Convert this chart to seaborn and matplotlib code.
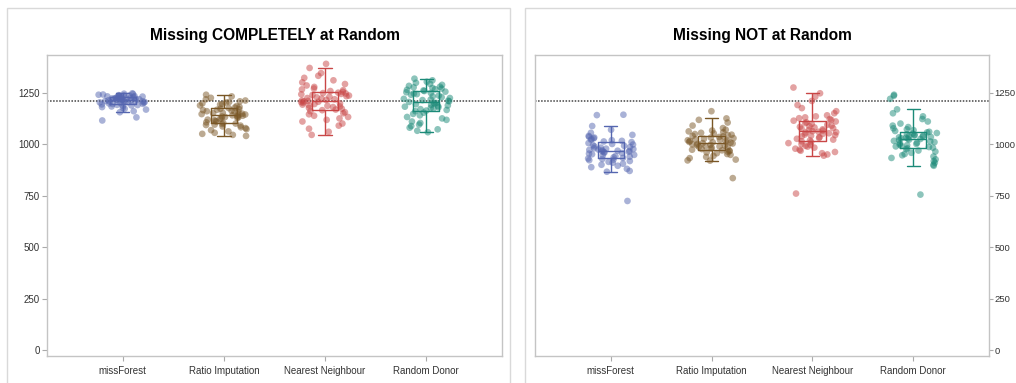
import numpy as np
import pandas as pd
import seaborn as sns
import matplotlib
matplotlib.use("Agg")
import matplotlib.pyplot as plt
from matplotlib.patches import Rectangle
from matplotlib.colors import to_rgba

methods = ["missForest", "Ratio Imputation", "Nearest Neighbour", "Random Donor"]
titles = ["Missing COMPLETELY at Random", "Missing NOT at Random"]
yticks = [0, 250, 500, 750, 1000, 1250]
true_total = 1210

mcar_missforest = [1115, 1130, 1155, 1160, 1168, 1172, 1176, 1180, 1183, 1186, 1188, 1190, 1191, 1193, 1195,
                   1196, 1198, 1200, 1201, 1203, 1204, 1205, 1206, 1207, 1208, 1209, 1210, 1210, 1211, 1212,
                   1213, 1214, 1215, 1216, 1217, 1218, 1219, 1220, 1221, 1222, 1223, 1224, 1225, 1226, 1228,
                   1229, 1230, 1231, 1232, 1233, 1234, 1235, 1236, 1237, 1238, 1240, 1241, 1243, 1245, 1247]
mcar_ratio = [1040, 1045, 1050, 1055, 1062, 1068, 1073, 1078, 1082, 1086, 1090, 1093, 1095, 1098, 1100,
              1103, 1106, 1110, 1113, 1116, 1119, 1122, 1125, 1128, 1130, 1132, 1134, 1136, 1138, 1140,
              1142, 1144, 1146, 1148, 1150, 1152, 1155, 1158, 1160, 1162, 1165, 1167, 1170, 1172, 1175,
              1178, 1181, 1185, 1188, 1192, 1195, 1198, 1202, 1205, 1208, 1212, 1218, 1225, 1232, 1240]
mcar_nn = [1045, 1060, 1075, 1090, 1100, 1110, 1118, 1125, 1132, 1138, 1145, 1150, 1155, 1160, 1165,
           1168, 1172, 1176, 1180, 1183, 1186, 1189, 1192, 1195, 1198, 1201, 1204, 1206, 1208, 1210,
           1212, 1215, 1218, 1221, 1224, 1227, 1230, 1233, 1236, 1239, 1242, 1244, 1246, 1248, 1250,
           1254, 1258, 1262, 1266, 1270, 1278, 1285, 1292, 1300, 1310, 1322, 1332, 1345, 1370, 1390]
mcar_rd = [1058, 1065, 1072, 1080, 1088, 1095, 1103, 1110, 1118, 1125, 1132, 1140, 1147, 1153, 1160,
           1163, 1166, 1170, 1173, 1176, 1179, 1182, 1185, 1188, 1191, 1194, 1197, 1200, 1202, 1205,
           1208, 1211, 1214, 1217, 1220, 1224, 1228, 1232, 1236, 1240, 1243, 1246, 1249, 1252, 1255,
           1258, 1261, 1264, 1267, 1270, 1273, 1276, 1279, 1283, 1288, 1293, 1298, 1303, 1310, 1318]

mnar_missforest = [724, 866, 870, 880, 888, 895, 900, 905, 910, 914, 918, 922, 925, 928, 930,
                   933, 936, 939, 942, 945, 948, 951, 954, 957, 959, 961, 963, 965, 967, 968,
                   970, 972, 974, 976, 978, 980, 983, 986, 989, 992, 995, 998, 1001, 1005, 1010,
                   1013, 1016, 1019, 1022, 1025, 1028, 1032, 1036, 1040, 1045, 1055, 1070, 1088, 1141, 1143]
mnar_ratio = [835, 920, 921, 925, 932, 938, 943, 948, 952, 956, 960, 963, 966, 968, 970,
              973, 976, 979, 982, 985, 987, 989, 991, 993, 995, 997, 999, 1001, 1003, 1005,
              1007, 1009, 1011, 1013, 1015, 1017, 1019, 1021, 1023, 1026, 1029, 1032, 1035, 1038, 1040,
              1043, 1046, 1049, 1052, 1055, 1058, 1062, 1066, 1070, 1078, 1090, 1105, 1118, 1125, 1160]
mnar_nn = [760, 944, 950, 956, 962, 968, 973, 978, 983, 988, 992, 996, 1000, 1005, 1010,
           1014, 1018, 1022, 1026, 1030, 1034, 1038, 1041, 1044, 1047, 1050, 1053, 1056, 1058, 1060,
           1063, 1066, 1069, 1072, 1075, 1078, 1081, 1084, 1087, 1090, 1094, 1098, 1102, 1106, 1110,
           1114, 1118, 1122, 1126, 1130, 1135, 1140, 1150, 1160, 1175, 1190, 1210, 1230, 1247, 1275]
mnar_rd = [755, 895, 900, 910, 918, 926, 933, 940, 946, 952, 958, 964, 969, 975, 980,
           983, 986, 989, 992, 995, 998, 1001, 1004, 1007, 1010, 1013, 1016, 1019, 1022, 1025,
           1027, 1029, 1031, 1033, 1035, 1037, 1039, 1041, 1043, 1045, 1048, 1051, 1054, 1057, 1060,
           1064, 1068, 1072, 1077, 1083, 1090, 1100, 1110, 1122, 1135, 1150, 1169, 1220, 1235, 1240]

mcar = [mcar_missforest, mcar_ratio, mcar_nn, mcar_rd]
mnar = [mnar_missforest, mnar_ratio, mnar_nn, mnar_rd]

colors = ["#5566b0", "#7a5726", "#c94646", "#1b8a78"]
palette = dict(zip(methods, colors))


def to_frame(groups):
    rows = []
    for m, vals in zip(methods, groups):
        for v in vals:
            rows.append((m, v))
    return pd.DataFrame(rows, columns=["method", "total"])


sns.set_theme(style="white")
plt.rcParams["font.family"] = ["Liberation Sans", "DejaVu Sans"]

W, H = 1016, 383
fig = plt.figure(figsize=(W / 100, H / 100), dpi=100)
fig.patch.set_facecolor("white")

# panel frames
fig.add_artist(Rectangle((7 / W, -0.2), (510 - 7) / W, 1.2 - 8 / H, transform=fig.transFigure,
                         fill=False, edgecolor="#d9d9d9", linewidth=1.0))
fig.add_artist(Rectangle((525 / W, -0.2), 0.6, 1.2 - 8 / H, transform=fig.transFigure,
                         fill=False, edgecolor="#d9d9d9", linewidth=1.0))

ax_l = fig.add_axes([47 / W, 1 - 356 / H, 455 / W, 301 / H])
ax_r = fig.add_axes([535 / W, 1 - 356 / H, 454 / W, 301 / H])

np.random.seed(7)
for ax, groups, title, side in [(ax_l, mcar, titles[0], "left"), (ax_r, mnar, titles[1], "right")]:
    df = to_frame(groups)
    ax.axhline(true_total, color="#444444", linestyle=(0, (1, 1)), linewidth=1.1, zorder=1)
    sns.stripplot(data=df, x="method", y="total", hue="method", palette=palette, order=methods,
                  jitter=0.24, size=4.8, alpha=0.5, linewidth=0, legend=False, ax=ax, zorder=2)
    sns.boxplot(data=df, x="method", y="total", hue="method", palette=palette, order=methods,
                width=0.26, fill=False, linewidth=1.0, fliersize=0, whis=1.5, legend=False,
                ax=ax, zorder=3)
    for p in ax.patches:
        ec = p.get_edgecolor()
        p.set_facecolor(to_rgba(ec[:3], 0.35))
    ax.set_xlim(-0.75, 3.75)
    ax.set_ylim(-29, 1433)
    ax.set_yticks(yticks)
    ax.set_yticklabels([str(t) for t in yticks])
    ax.set_xlabel("")
    ax.set_ylabel("")
    ax.set_title(title, fontsize=11.2, fontweight="bold", color="black", pad=11)
    for s in ax.spines.values():
        s.set_color("#c4c4c4")
        s.set_linewidth(1.0)
    ax.tick_params(axis="both", which="both", direction="out", length=3.5, width=0.8,
                   color="#aaaaaa", labelsize=7, labelcolor="#333333", pad=1.5)
    ax.tick_params(axis="x", pad=4)
    if side == "right":
        ax.yaxis.tick_right()
        ax.tick_params(axis="y", left=False, right=True, labelleft=False, labelright=True,
                       length=3, pad=1, labelsize=6.8)
    else:
        ax.tick_params(axis="y", left=True, right=False)
    ax.tick_params(axis="x", bottom=True, top=False)
    ax.set_facecolor("white")

fig.savefig("out.png", dpi=100, facecolor="white")
